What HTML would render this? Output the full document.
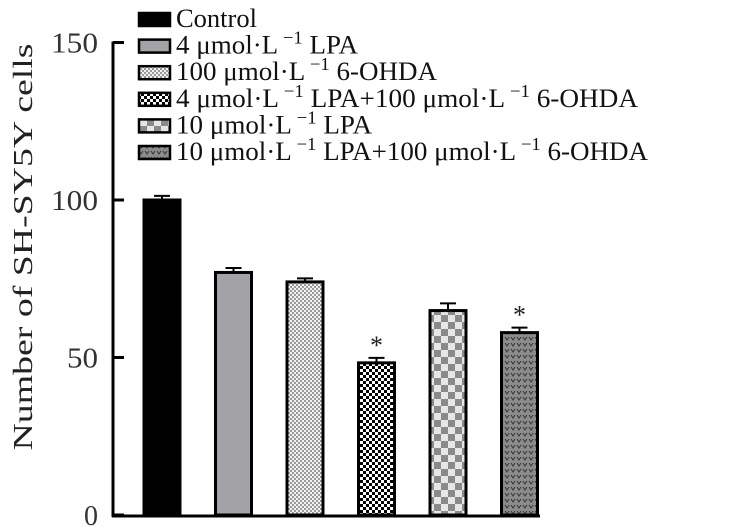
<!DOCTYPE html>
<html><head><meta charset="utf-8"><style>
html,body{margin:0;padding:0;background:#fff;}
svg{display:block;font-family:"Liberation Serif",serif;}
</style></head><body>
<svg id="chart" width="740" height="527" viewBox="0 0 740 527">
<defs>
<pattern id="p3" width="4" height="4" patternUnits="userSpaceOnUse"><rect width="4" height="4" fill="#f2f2f2"/><rect width="2" height="2" fill="#9a9a9a"/><rect x="2" y="2" width="2" height="2" fill="#9a9a9a"/></pattern>
<pattern id="p4" width="6" height="6" patternUnits="userSpaceOnUse"><rect width="6" height="6" fill="#fff"/><rect width="3" height="3" fill="#000"/><rect x="3" y="3" width="3" height="3" fill="#000"/></pattern>
<pattern id="p5" width="14" height="14" patternUnits="userSpaceOnUse"><rect width="14" height="14" fill="#e6e6e6"/><rect width="7" height="7" fill="#8a8a8a"/><rect x="7" y="7" width="7" height="7" fill="#8a8a8a"/></pattern>
<pattern id="p6" width="6" height="6" patternUnits="userSpaceOnUse"><rect width="6" height="6" fill="#8c8c8c"/><path d="M1 1 L3 4 L5 1" stroke="#333" stroke-width="1" fill="none"/></pattern>
</defs>
<g id="axes"></g>
<g id="bars"></g>
<g id="legend"></g>
</svg>
<script>
const categories = ["Control","4 μmol·L−1 LPA","100 μmol·L−1 6-OHDA","4 μmol·L−1 LPA+100 μmol·L−1 6-OHDA","10 μmol·L−1 LPA","10 μmol·L−1 LPA+100 μmol·L−1 6-OHDA"];
const values = [100, 77, 74, 48.3, 64.9, 57.9];
const errors = [1.3, 1.4, 1.1, 1.6, 2.3, 1.6];
const significant = [false, false, false, true, false, true];
const yTicks = [0, 50, 100, 150];
const legendWidths = [81, 182, 261, 462, 196, 472];
const fills = ["#000","#a3a3a7","url(#p3)","url(#p4)","url(#p5)","url(#p6)"];
const NS="http://www.w3.org/2000/svg";
function mk(tag, attrs, parent){const e=document.createElementNS(NS,tag);for(const k in attrs)e.setAttribute(k,attrs[k]);parent.appendChild(e);return e;}
const y0=515, yScale=3.15;
function y(v){return y0 - v*yScale;}
function xc(i){return 162 + i*71.5;}
const axes=document.getElementById('axes'), bars=document.getElementById('bars'), legend=document.getElementById('legend');
let a=mk('line',{x1:113,y1:y(150)-1,x2:113,y2:517,stroke:'#000','stroke-width':3},axes);

a=mk('line',{x1:112,y1:516,x2:540,y2:516,stroke:'#000','stroke-width':3},axes);

yTicks.forEach(t=>{
  const l=mk('line',{x1:113,y1:y(t),x2:124,y2:y(t),stroke:'#000','stroke-width':3},axes);
  
  const s=String(t);
  const attrs={x:98,y:y(t)+10,'text-anchor':'end','font-size':28,fill:'#333'};
  if(s.length===3){attrs.textLength=47;attrs.lengthAdjust='spacingAndGlyphs';}
  else if(s.length===2){attrs.textLength=31;attrs.lengthAdjust='spacingAndGlyphs';}
  const tx=mk('text',attrs,axes);
  tx.textContent=s;
  
});
const yl=mk('text',{x:0,y:0,transform:'translate(32,247) rotate(-90)','text-anchor':'middle','font-size':27,fill:'#222',textLength:407,lengthAdjust:'spacingAndGlyphs'},axes);
yl.textContent='Number of SH-SY5Y cells';

const bw=36;
values.forEach((v,i)=>{
  const r=mk('rect',{x:xc(i)-bw/2,y:y(v),width:bw,height:y0-y(v),fill:fills[i],stroke:'#000','stroke-width':3},bars);
  
  const top=y(v+errors[i]);
  const e=mk('path',{d:`M${xc(i)} ${y(v)} V${top} M${xc(i)-8} ${top} H${xc(i)+8}`,stroke:'#000','stroke-width':2,fill:'none'},bars);
  
  if(significant[i]){
    const s=mk('text',{x:xc(i),y:top-4,'text-anchor':'middle','font-size':26,fill:'#222'},bars);
    s.textContent='*';
    
  }
});
categories.forEach((c,i)=>{
  const cy=19+i*26.6;
  const sw=mk('rect',{x:139,y:cy-6,width:31,height:13,fill:fills[i],stroke:'#000','stroke-width':2.5},legend);
  
  const t=mk('text',{x:176,y:cy+8,'font-size':26,fill:'#111',textLength:legendWidths[i],lengthAdjust:'spacingAndGlyphs'},legend);
  
  const parts=c.split('−1');
  parts.forEach((p,k)=>{
    const s1=mk('tspan',k>0?{dy:10}:{},t);s1.textContent=(k>0?' ':'')+p;
    if(k<parts.length-1){const s2=mk('tspan',{dy:-10,'font-size':18},t);s2.textContent=' −1';}
  });
});
</script>
</body></html>
